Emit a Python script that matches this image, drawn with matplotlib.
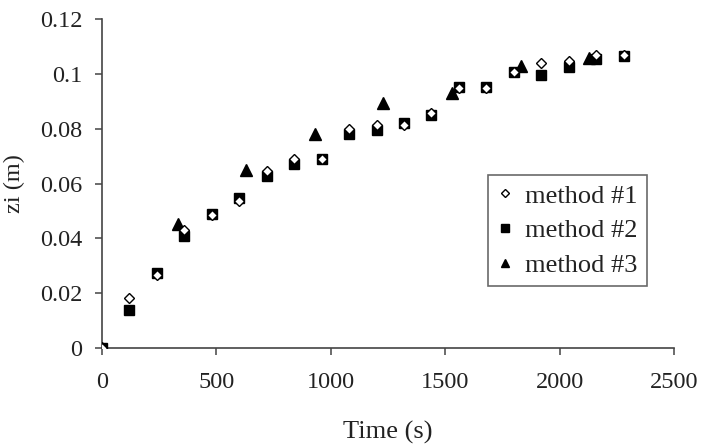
import matplotlib; matplotlib.use('Agg')
import matplotlib.pyplot as plt
from matplotlib.ticker import FixedLocator, FixedFormatter

plt.rcParams.update({'font.family': 'serif', 'font.serif': ['Liberation Serif'],
                     'font.size': 17.5})

# data
t12 = [0, 120, 240, 360, 480, 600, 720, 840, 960, 1080, 1200, 1320,
       1440, 1560, 1680, 1800, 1920, 2040, 2160, 2280]
z_m1 = [0, 0.0182, 0.0266, 0.043, 0.0485, 0.0535, 0.0645, 0.069, 0.0689, 0.0797,
        0.0815, 0.0815, 0.0858, 0.095, 0.095, 0.1005, 0.104, 0.1045, 0.107, 0.107]
z_m2 = [0, 0.0139, 0.0274, 0.0408, 0.0489, 0.0547, 0.0627, 0.0671, 0.0689, 0.078,
        0.0795, 0.082, 0.085, 0.0952, 0.0952, 0.1007, 0.0997, 0.1025, 0.1054, 0.1064]
t3 = [0, 330, 630, 930, 1230, 1530, 1830, 2130]
z_m3 = [0, 0.0452, 0.065, 0.078, 0.0893, 0.093, 0.103, 0.1058]

yticks = [0, 0.02, 0.04, 0.06, 0.08, 0.1, 0.12]
ytick_labels = ['0', '0.02', '0.04', '0.06', '0.08', '0.1', '0.12']
xticks = [0, 500, 1000, 1500, 2000, 2500]

fig = plt.figure(figsize=(7.02, 4.48), dpi=100)
ax = fig.add_axes([0.1453, 0.2232, 0.8148, 0.7344])

ax.plot(t12, z_m1, ls='none', marker='D', ms=5.5, mfc='white', mec='black',
        mew=1.0, label='method #1', zorder=4)
ax.plot(t12, z_m2, ls='none', marker='s', ms=7, mfc='black', mec='black',
        label='method #2', zorder=3)
ax.plot(t3, z_m3, ls='none', marker='^', ms=8, mfc='black', mec='black',
        label='method #3', zorder=3)

ax.set_xlim(0, 2500)
ax.set_ylim(0, 0.12)
ax.xaxis.set_major_locator(FixedLocator(xticks))
ax.yaxis.set_major_locator(FixedLocator(yticks))
ax.yaxis.set_major_formatter(FixedFormatter(ytick_labels))

for s in ['top', 'right']:
    ax.spines[s].set_visible(False)
for s in ['left', 'bottom']:
    ax.spines[s].set_color('#444')
    ax.spines[s].set_linewidth(1.2)
ax.tick_params(direction='out', length=5, width=1.1, color='#444',
               labelsize=17.5, labelcolor='#222')
ax.tick_params(axis='y', pad=9)
ax.tick_params(axis='x', pad=12)

ax.set_xlabel('Time (s)', fontsize=19, color='#222')
ax.set_ylabel('zi (m)', fontsize=17.5, color='#222')
ax.xaxis.set_label_coords(0.5, -0.222)
ax.yaxis.set_label_coords(-0.134, 0.5)

leg = ax.legend(loc='upper left', bbox_to_anchor=(0.675, 0.526), frameon=True,
                fancybox=False, edgecolor='#444', handlelength=0.6,
                handletextpad=0.45, borderpad=0.35, labelspacing=0.42,
                markerscale=0.75, fontsize=19, borderaxespad=0)
leg.get_frame().set_linewidth(1.2)
for txt in leg.get_texts():
    txt.set_color('#222')

fig.savefig('out.png', dpi=100)
